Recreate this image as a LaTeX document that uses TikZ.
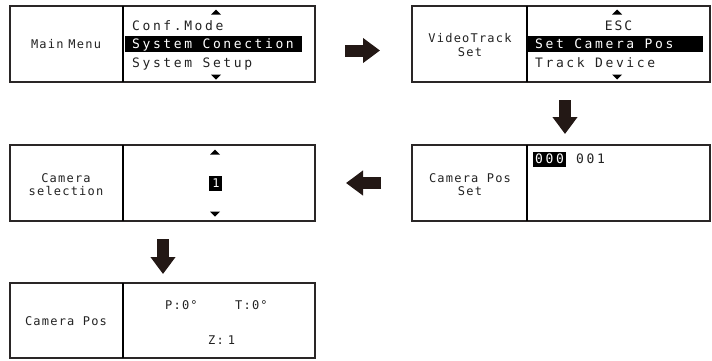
\documentclass[tikz,border=0pt]{standalone}
\usepackage{fontspec}
\newfontfamily\lcd[LetterSpace=20]{DejaVu Sans Mono}
\newfontfamily\lcdlab[LetterSpace=10]{DejaVu Sans Mono}
\usetikzlibrary{arrows.meta,calc}
\definecolor{arrowc}{HTML}{231815}
\definecolor{framec}{HTML}{2A2626}
\definecolor{textc}{HTML}{222222}
\begin{document}
\begin{tikzpicture}[x=1pt,y=-1pt,
  panel/.style={draw=framec,line width=1.6pt,minimum height=76pt,inner sep=0pt,outer sep=0pt},
  divider/.style={draw=black,line width=2.2pt},
  menutxt/.style={font=\lcd\fontsize{13}{14}\selectfont,text=textc,inner sep=0pt,anchor=base west},
  labtxt/.style={font=\lcdlab\fontsize{12}{13}\selectfont,text=textc,inner sep=0pt,anchor=base},
  valtxt/.style={font=\lcdlab\fontsize{12}{13}\selectfont,text=textc,inner sep=0pt,anchor=base west},
  seltxt/.style={font=\lcd\fontsize{13}{14}\selectfont,text=white,inner sep=0pt,anchor=base west},
  selbar/.style={fill=black,inner sep=0pt,outer sep=0pt},
  tri/.style={fill=black},
  bigarrow/.style={draw=arrowc,line width=12pt,-{Triangle[width=24pt,length=17pt]}}]
\useasboundingbox (0,0) rectangle (712,360);

% panels
\node[panel,minimum width=305pt] (b1) at (162.5,44) {};
\node[panel,minimum width=298pt] (b2) at (561,44) {};
\node[panel,minimum width=305pt] (b3) at (162.5,183) {};
\node[panel,minimum width=298pt] (b4) at (561,183) {};
\node[panel,minimum width=305pt,minimum height=75pt] (b5) at (162.5,320.5) {};

% dividers
\draw[divider] ($(b1.north west)+(113,0)$) -- ($(b1.south west)+(113,0)$);
\draw[divider] ($(b2.north west)+(115,0)$) -- ($(b2.south west)+(115,0)$);
\draw[divider] ($(b3.north west)+(113,0)$) -- ($(b3.south west)+(113,0)$);
\draw[divider] ($(b4.north west)+(115,0)$) -- ($(b4.south west)+(115,0)$);
\draw[divider] ($(b5.north west)+(113,0)$) -- ($(b5.south west)+(113,0)$);

% panel 1
\node[labtxt] (l1) at (66,48.5) {Main\hspace{5pt}Menu};
\fill[tri] (216,9.5) -- (221,14.5) -- (211,14.5) -- cycle;
\node[menutxt] (m11) at (132,30) {Conf.Mode};
\node[selbar,minimum width=177pt,minimum height=16pt] (s1) at (213.5,44) {};
\node[seltxt] (m12) at (132,48.5) {System Conection};
\node[menutxt] (m13) at (132,67) {System Setup};
\fill[tri] (216,79.5) -- (221,74.5) -- (211,74.5) -- cycle;

% panel 2
\node[labtxt] (l2a) at (470,42.5) {VideoTrack};
\node[labtxt] (l2b) at (470,56) {Set};
\fill[tri] (617,9.5) -- (622,14.5) -- (612,14.5) -- cycle;
\node[menutxt,anchor=base] (m21) at (618.5,30) {E\hspace{2pt}S\hspace{2pt}C};
\node[selbar,minimum width=175pt,minimum height=16pt] (s2) at (615.5,44) {};
\node[seltxt] (m22) at (535,48.5) {Set Camera Pos};
\node[menutxt] (m23) at (535,67) {Track Device};
\fill[tri] (617,79.5) -- (622,74.5) -- (612,74.5) -- cycle;

% panel 3
\node[labtxt] (l3a) at (66,182.5) {Camera};
\node[labtxt] (l3b) at (66,195) {selection};
\fill[tri] (215,149.5) -- (220,154.5) -- (210,154.5) -- cycle;
\node[selbar,minimum width=13pt,minimum height=15pt] (s3) at (215,183) {};
\node[font=\lcd\fontsize{12}{13}\selectfont,text=white,inner sep=0pt,anchor=base] (v3) at (216,187.5) {1};
\fill[tri] (215,216.5) -- (220,211.5) -- (210,211.5) -- cycle;

% panel 4
\node[labtxt] (l4a) at (470,182.5) {Camera Pos};
\node[labtxt] (l4b) at (470,195) {Set};
\node[selbar,minimum width=33pt,minimum height=15pt] (s4) at (549.5,159) {};
\node[seltxt] (v4a) at (535,163.5) {000};
\node[menutxt] (v4b) at (576,163.5) {001};

% panel 5
\node[labtxt] (l5) at (66,325.5) {Camera Pos};
\node[valtxt] (p5) at (165,309.5) {P:0°};
\node[valtxt] (t5) at (235,309.5) {T:0°};
\node[valtxt] (z5) at (208,344.5) {Z:\hspace{4pt}1};

% arrows
\draw[bigarrow,shorten <=30pt,shorten >=32pt] ([yshift=-6.5pt]b1.east) -- ([yshift=-6.5pt]b2.west);
\draw[bigarrow,shorten <=18pt,shorten >=11pt] ([xshift=4pt]b2.south) -- ([xshift=4pt]b4.north);
\draw[bigarrow,shorten <=31pt,shorten >=31pt] (b4.west) -- (b3.east);
\draw[bigarrow,shorten <=18pt,shorten >=9pt] ([xshift=0.5pt]b3.south) -- ([xshift=0.5pt]b5.north);
\end{tikzpicture}
\end{document}
